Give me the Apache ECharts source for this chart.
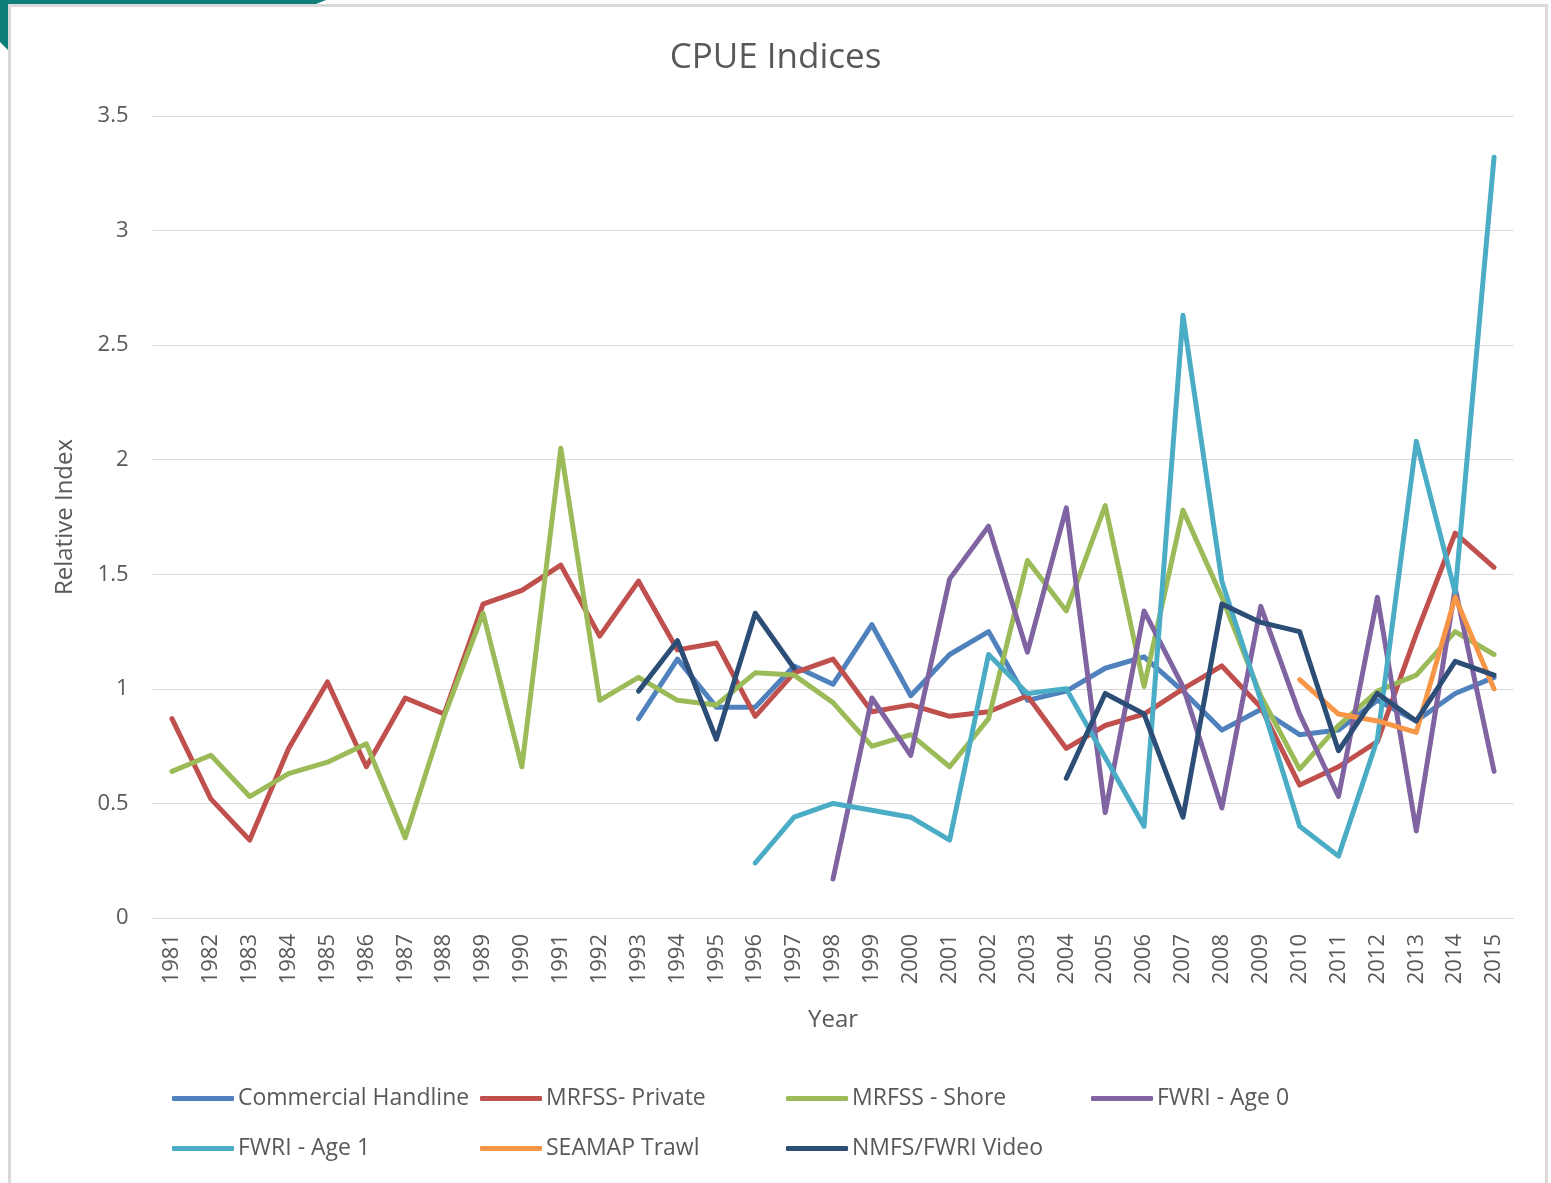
<!DOCTYPE html>
<html>
<head>
<meta charset="utf-8">
<title>CPUE Indices</title>
<script src="https://cdn.jsdelivr.net/npm/echarts@6/dist/echarts.min.js"></script>
<style>
  html, body { margin: 0; padding: 0; background: #fff; }
  #chart { width: 1551px; height: 1183px; }
</style>
</head>
<body>
<div id="chart"></div>
<script>
var years = ['1981','1982','1983','1984','1985','1986','1987','1988','1989','1990',
    '1991','1992','1993','1994','1995','1996','1997','1998','1999','2000',
    '2001','2002','2003','2004','2005','2006','2007','2008','2009','2010',
    '2011','2012','2013','2014','2015'];

var yTicks = [0, 0.5, 1, 1.5, 2, 2.5, 3, 3.5];

var seriesNames = ['Commercial Handline', 'MRFSS- Private', 'MRFSS - Shore', 'FWRI - Age 0',
    'FWRI - Age 1', 'SEAMAP Trawl', 'NMFS/FWRI Video'];

var commercialHandline = [null, null, null, null, null, null, null, null, null, null,
    null, null, 0.87, 1.13, 0.92, 0.92, 1.10, 1.02, 1.28, 0.97,
    1.15, 1.25, 0.95, 0.99, 1.09, 1.14, 0.99, 0.82, 0.91, 0.80,
    0.82, 0.95, 0.86, 0.98, 1.05];

var mrfssPrivate = [0.87, 0.52, 0.34, 0.74, 1.03, 0.66, 0.96, 0.89, 1.37, 1.43,
    1.54, 1.23, 1.47, 1.17, 1.20, 0.88, 1.07, 1.13, 0.90, 0.93,
    0.88, 0.90, 0.97, 0.74, 0.84, 0.89, 1.00, 1.10, 0.92, 0.58,
    0.66, 0.77, 1.24, 1.68, 1.53];

var mrfssShore = [0.64, 0.71, 0.53, 0.63, 0.68, 0.76, 0.35, 0.88, 1.33, 0.66,
    2.05, 0.95, 1.05, 0.95, 0.93, 1.07, 1.06, 0.94, 0.75, 0.80,
    0.66, 0.87, 1.56, 1.34, 1.80, 1.01, 1.78, 1.40, 0.97, 0.65,
    0.84, 0.99, 1.06, 1.25, 1.15];

var fwriAge0 = [null, null, null, null, null, null, null, null, null, null,
    null, null, null, null, null, null, null, 0.17, 0.96, 0.71,
    1.48, 1.71, 1.16, 1.79, 0.46, 1.34, 1.01, 0.48, 1.36, 0.89,
    0.53, 1.40, 0.38, 1.44, 0.64];

var fwriAge1 = [null, null, null, null, null, null, null, null, null, null,
    null, null, null, null, null, 0.24, 0.44, 0.50, 0.47, 0.44,
    0.34, 1.15, 0.98, 1.00, 0.70, 0.40, 2.63, 1.47, 0.95, 0.40,
    0.27, 0.78, 2.08, 1.42, 3.32];

var seamapTrawl = [null, null, null, null, null, null, null, null, null, null,
    null, null, null, null, null, null, null, null, null, null,
    null, null, null, null, null, null, null, null, null, 1.04,
    0.89, 0.86, 0.81, 1.40, 1.00];

var nmfsVideo = [null, null, null, null, null, null, null, null, null, null,
    null, null, 0.99, 1.21, 0.78, 1.33, 1.09, null, null, null,
    null, null, null, 0.61, 0.98, 0.89, 0.44, 1.37, 1.29, 1.25,
    0.73, 0.98, 0.86, 1.12, 1.06];

var seriesData = [commercialHandline, mrfssPrivate, mrfssShore, fwriAge0, fwriAge1, seamapTrawl, nmfsVideo];
var colors = ['#4f81bd', '#c0504d', '#9bbb59', '#8064a2', '#4bacc6', '#f79646', '#2c4d75'];

// legend grid: 4 columns, 2 rows
var legendLeft = [172, 480, 786, 1091, 172, 480, 786];
var legendTop = [1087, 1087, 1087, 1087, 1137, 1137, 1137];

var textColor = '#595959';
var fontFamily = '"Open Sans", "Noto Sans", sans-serif';

var chart = echarts.init(document.getElementById('chart'), null, { renderer: 'canvas' });

var legends = seriesNames.map(function (name, i) {
    return {
        data: [name],
        left: legendLeft[i],
        top: legendTop[i],
        padding: 0,
        icon: 'roundRect',
        itemWidth: 62,
        itemHeight: 5,
        selectedMode: false,
        textStyle: { color: textColor, fontSize: 23, fontFamily: fontFamily, padding: [0, 0, 0, -1] }
    };
});

var series = seriesNames.map(function (name, i) {
    return {
        name: name,
        type: 'line',
        data: seriesData[i],
        symbol: 'none',
        connectNulls: false,
        color: colors[i],
        lineStyle: { width: 5, color: colors[i], cap: 'round', join: 'round' },
        emphasis: { disabled: true },
        z: 2 + i
    };
});

var option = {
    backgroundColor: '#ffffff',
    animation: false,
    textStyle: { fontFamily: fontFamily },
    title: {
        text: 'CPUE Indices',
        left: 'center',
        top: 36,
        textStyle: { color: textColor, fontSize: 35, fontWeight: 'normal', fontFamily: fontFamily }
    },
    legend: legends,
    grid: {
        left: 152.5,
        right: 37.5,
        top: 116,
        bottom: 265,
        containLabel: false,
        outerBoundsMode: 'none'
    },
    xAxis: {
        type: 'category',
        data: years,
        boundaryGap: true,
        name: 'Year',
        nameLocation: 'middle',
        nameGap: 90,
        nameTextStyle: { color: textColor, fontSize: 24, fontFamily: fontFamily },
        axisLine: { show: true, lineStyle: { color: '#d9d9d9', width: 1 } },
        axisTick: { show: false },
        axisLabel: { rotate: 90, color: textColor, fontSize: 22, margin: 16, interval: 0, fontFamily: fontFamily },
        splitLine: { show: false }
    },
    yAxis: {
        type: 'value',
        min: yTicks[0],
        max: yTicks[yTicks.length - 1],
        interval: 0.5,
        name: 'Relative Index',
        nameLocation: 'middle',
        nameGap: 75,
        nameTextStyle: { color: textColor, fontSize: 24, fontFamily: fontFamily },
        axisLine: { show: false },
        axisTick: { show: false },
        axisLabel: { color: textColor, fontSize: 22, margin: 24, fontFamily: fontFamily },
        splitLine: { show: true, lineStyle: { color: '#d9d9d9', width: 1 } }
    },
    graphic: [
        {
            type: 'polygon',
            shape: { points: [[0, 0], [326, 0], [316, 4], [10, 4], [10, 52], [0, 42]] },
            style: { fill: '#0e7f78' },
            silent: true
        },
        {
            type: 'polyline',
            shape: { points: [[9.5, 1200], [9.5, 5.5], [1546.5, 5.5], [1546.5, 1200]] },
            style: { stroke: '#d9d9d9', lineWidth: 3, fill: null },
            silent: true
        }
    ],
    series: series
};

chart.setOption(option);
</script>
</body>
</html>
